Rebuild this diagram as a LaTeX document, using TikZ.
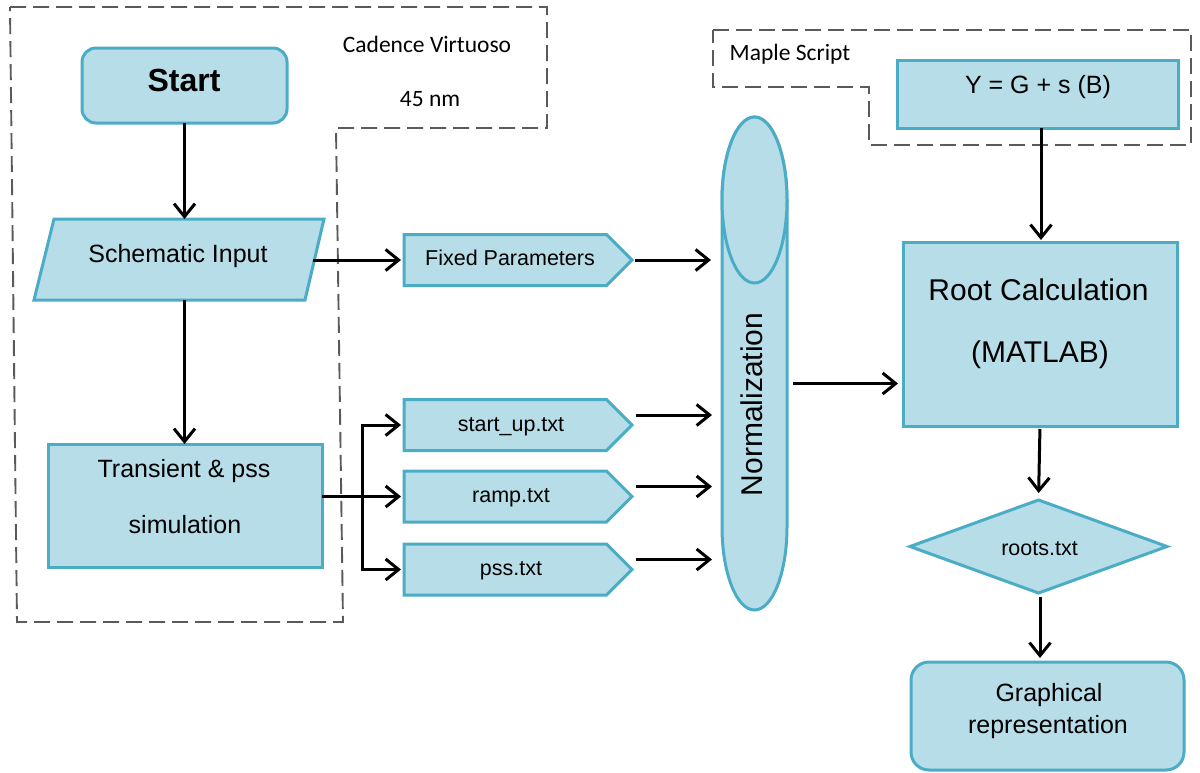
\documentclass[tikz,border=0pt]{standalone}
\usepackage{fontspec}
\setmainfont{Liberation Sans}
\newfontfamily\calibrifont{Carlito}
\usetikzlibrary{shapes.geometric,shapes.symbols,arrows.meta}

\definecolor{boxfill}{HTML}{B7DDE8}
\definecolor{boxline}{HTML}{4BACC6}
\definecolor{framegray}{HTML}{5A5A5A}

\newcommand{\fs}[1]{\fontsize{#1}{#1}\selectfont}

\tikzset{
  box/.style={draw=boxline, fill=boxfill, line width=3pt, inner sep=0pt, outer sep=0pt},
  filebox/.style={box, signal, signal to=east, signal pointer angle=90,
    minimum width=228pt, minimum height=51pt, anchor=west},
  txt/.style={inner sep=0pt, outer sep=0pt, anchor=base},
  frame/.style={draw=framegray, line width=1.9pt, dash pattern=on 16pt off 7pt},
  arr/.style={draw=black, line width=3pt, -{Straight Barb[length=13pt,width=21pt]}},
  link/.style={draw=black, line width=3pt},
  holder/.style={inner sep=0pt, outer sep=0pt}
}

\begin{document}
\begin{tikzpicture}[x=1pt,y=-1pt]
\useasboundingbox (0,0) rectangle (1200,772);

% tool frames
\draw[frame] (10,7) -- (547,7) -- (547,128) -- (336,128) -- (343,622) -- (17,622) -- cycle;
\draw[frame] (713,30) -- (1191,30) -- (1191,145) -- (869,145) -- (869,87) -- (713,87) -- cycle;
\node[txt, font=\calibrifont\fs{23.5}] (cad) at (427,52) {Cadence Virtuoso};
\node[txt, font=\calibrifont\fs{23.5}] (nm) at (430,106) {45 nm};
\node[txt, font=\calibrifont\fs{23.5}] (maple) at (790,60) {Maple Script};

% left column
\node[box, rounded corners=14pt, minimum width=205pt, minimum height=75pt] (start) at (184.5,85.5) {};
\node[txt, font=\bfseries\fs{32}] (starttxt) at (184,91.5) {Start};

% input parallelogram
\node[holder, minimum width=290pt, minimum height=81pt] (sch) at (179,259.5) {};
\draw[box, line join=miter] ([xshift=20pt]sch.north west) -- (sch.north east)
  -- ([xshift=-19pt]sch.south east) -- (sch.south west) -- cycle;
\node[txt, font=\fs{25}] (schtxt) at (178,262) {Schematic Input};

\node[box, minimum width=274pt, minimum height=123pt] (tr) at (185,505.5) {};
\node[txt, font=\fs{25}] (trtxt1) at (184,477) {Transient \& pss};
\node[txt, font=\fs{25}] (trtxt2) at (185,533) {simulation};

% data files
\node[filebox] (fixed) at (404,260) {};
\node[txt, font=\fs{21.5}] (fixedtxt) at (510,265) {Fixed Parameters};
\node[filebox] (su) at (404,425) {};
\node[txt, font=\fs{21.5}] (sutxt) at (511,431) {start\_up.txt};
\node[filebox] (ramp) at (404,496.5) {};
\node[txt, font=\fs{21.5}] (ramptxt) at (511,502) {ramp.txt};
\node[filebox] (pss) at (404,569.5) {};
\node[txt, font=\fs{21.5}] (psstxt) at (511,575) {pss.txt};

% normalization drum
\node[holder, minimum width=65pt, minimum height=493pt] (norm) at (754.5,363.5) {};
\begin{scope}[shift={(norm.center)}]
  \draw[box] (-32.5,-163.5) -- (-32.5,163.5)
    arc[start angle=180, end angle=0, x radius=32.5, y radius=83]
    -- (32.5,-163.5)
    arc[start angle=0, end angle=-180, x radius=32.5, y radius=83] -- cycle;
  \draw[box] (0,-163.5) ellipse[x radius=32.5, y radius=83];
\end{scope}
\node[txt, rotate=90, font=\fs{30}] (normtxt) at (762,404.5) {Normalization};

% right column
\node[box, minimum width=281pt, minimum height=68pt] (ybox) at (1038,94) {};
\node[txt, font=\fs{25}] (ytxt) at (1038,93) {Y = G + s (B)};

\node[box, minimum width=274pt, minimum height=184pt] (root) at (1040,334) {};
\node[txt, font=\fs{30}] (roottxt1) at (1038.5,300) {Root Calculation};
\node[txt, font=\fs{30}] (roottxt2) at (1040,362) {(MATLAB)};

\node[box, diamond, minimum width=257pt, minimum height=93pt] (roots) at (1038.5,546.5) {};
\node[txt, font=\fs{21.5}] (rootstxt) at (1039.5,555) {roots.txt};

\node[box, rounded corners=18pt, minimum width=273pt, minimum height=108pt] (graph) at (1047.5,716) {};
\node[txt, font=\fs{25}] (graphtxt1) at (1049,701) {Graphical};
\node[txt, font=\fs{25}] (graphtxt2) at (1048,733) {representation};

% connection points
\coordinate (schout) at ([xshift=-11pt]sch.east |- fixed.west);
\coordinate (br) at ([xshift=40pt]tr.east |- ramp.west);
\coordinate (suout) at ([yshift=10pt]su.east);
\coordinate (rampout) at ([yshift=10pt]ramp.east);
\coordinate (pssout) at ([yshift=10pt]pss.east);
\coordinate (normout) at ([yshift=-20pt]norm.east);
\coordinate (yout) at ([xshift=3pt]ybox.south);
\coordinate (rootsout) at ([xshift=1.5pt]roots.south);

% connectors
\draw[arr] (start.south) -- (start.south |- sch.north);
\draw[arr] (start.south |- sch.south) -- (start.south |- tr.north);
\draw[arr, shorten >=3pt] (schout) -- (fixed.west);

\draw[link] (tr.east |- ramp.west) -- (br);
\draw[arr, shorten >=3pt] (br) |- (su.west);
\draw[arr, shorten >=3pt] (br) -- (ramp.west);
\draw[arr, shorten >=3pt] (br) |- (pss.west);

\draw[arr, shorten <=3pt, shorten >=11pt] (fixed.east) -- (norm.west |- fixed.east);
\draw[arr, shorten <=4pt, shorten >=10pt] (suout) -- (norm.west |- suout);
\draw[arr, shorten <=4pt, shorten >=10pt] (rampout) -- (norm.west |- rampout);
\draw[arr, shorten <=4pt, shorten >=10pt] (pssout) -- (norm.west |- pssout);

\draw[arr, shorten <=6pt, shorten >=5pt] (normout) -- (root.west |- normout);
\draw[arr, shorten >=2pt] (yout) -- (yout |- root.north);
\draw[arr, shorten <=3pt, shorten >=7pt] (root.south) -- (roots.north);
\draw[arr, shorten <=4pt, shorten >=4pt] (rootsout) -- (rootsout |- graph.north);
\end{tikzpicture}
\end{document}
